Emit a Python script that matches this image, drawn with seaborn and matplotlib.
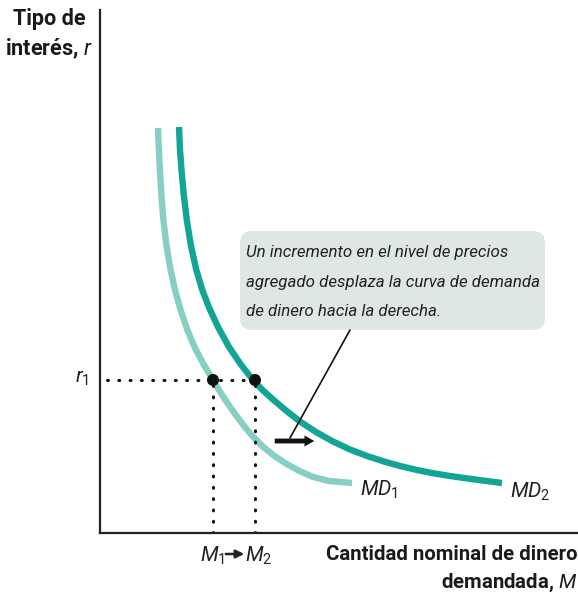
import matplotlib
matplotlib.use("Agg")
import matplotlib.pyplot as plt
from matplotlib.patches import FancyBboxPatch
import seaborn as sns
import pandas as pd

# Curve points (x = quantity of money, y = interest rate)
md1_x = [58, 58.9, 59.9, 61.4, 63.4, 66.4, 70.6, 75, 80.6, 87.4, 94.5, 103.4, 113, 120.2, 127.4,
         135.8, 144.8, 153.3, 163.3, 174.5, 185, 199.4, 213.2, 229.2, 252]
md1_y = [405, 383, 363, 338, 313, 288, 263, 243, 223, 203, 186, 169, 153, 141, 130,
         118, 106, 96, 86, 77, 70, 62, 56, 52, 50]
md2_x = [79, 80, 81.5, 83.8, 86.8, 90.8, 96.3, 102.3, 108.8, 118, 129, 140.5, 153, 163, 173,
         186, 200, 216, 233, 250, 267, 284, 300, 317, 333, 350, 367, 385, 402]
md2_y = [406, 383, 363, 338, 313, 288, 263, 243, 226, 206, 186, 169, 153, 142.5, 133.5,
         122.5, 111.5, 101, 91.5, 83.5, 77, 71.5, 67, 63, 59.8, 57, 54.6, 52.2, 50]
r1 = 153
m1, m2 = 113, 155

sns.set_style("white")
plt.rcParams["font.family"] = ["Roboto", "DejaVu Sans"]
plt.rcParams["mathtext.fontset"] = "custom"
plt.rcParams["mathtext.it"] = "Roboto:italic"
plt.rcParams["mathtext.rm"] = "Roboto"
plt.rcParams["mathtext.bf"] = "Roboto:bold"

fig = plt.figure(figsize=(5.78, 5.99), dpi=100)
ax = fig.add_axes([100 / 578, 66 / 599, 478 / 578, 523 / 599])
ax.set_xlim(0, 478)
ax.set_ylim(0, 523)

c1 = "#87cfc5"
c2 = "#12a596"
df1 = pd.DataFrame({"M": md1_x, "r": md1_y})
df2 = pd.DataFrame({"M": md2_x, "r": md2_y})
sns.lineplot(data=df1, x="M", y="r", ax=ax, color=c1, lw=4.6, sort=False,
             solid_capstyle="butt", solid_joinstyle="round", estimator=None)
sns.lineplot(data=df2, x="M", y="r", ax=ax, color=c2, lw=4.6, sort=False,
             solid_capstyle="butt", solid_joinstyle="round", estimator=None)

# dotted guides
dots = (0, (0.3, 3.4))
ax.plot([7, m2], [r1, r1], ls=dots, color="#111", lw=2.2, dash_capstyle="round")
ax.plot([m1, m1], [0, r1], ls=dots, color="#111", lw=2.2, dash_capstyle="round")
ax.plot([m2, m2], [0, r1], ls=dots, color="#111", lw=2.2, dash_capstyle="round")

pts = pd.DataFrame({"M": [m1, m2], "r": [r1, r1]})
sns.scatterplot(data=pts, x="M", y="r", ax=ax, color="#111", s=75, edgecolor="none", zorder=5)

for s in ["top", "right"]:
    ax.spines[s].set_visible(False)
for s in ["left", "bottom"]:
    ax.spines[s].set_color("#222")
    ax.spines[s].set_linewidth(1.6)
ax.set_xticks([])
ax.set_yticks([])
ax.set_xlabel("")
ax.set_ylabel("")

fig.canvas.draw()
renderer = fig.canvas.get_renderer()


def fit(t, width_px):
    w = t.get_window_extent(renderer).width
    t.set_fontsize(t.get_fontsize() * width_px / w)
    return t.get_fontsize()


# axis titles
t = fig.text(49 / 578, 1 - 19 / 599, "Tipo de", ha="center", va="center",
             fontsize=14, fontweight="bold", color="#1a1a1a")
fs_y = fit(t, 73)
fig.text(49 / 578, 1 - 49 / 599, "interés, $\\mathit{r}$", ha="center", va="center",
         fontsize=fs_y, fontweight="bold", color="#1a1a1a")
t = fig.text(577 / 578, 1 - 554 / 599, "Cantidad nominal de dinero", ha="right", va="center",
             fontsize=14, fontweight="bold", color="#1a1a1a")
fs_x = fit(t, 252)
fig.text(577 / 578, 1 - 583 / 599, "demandada, $\\mathit{M}$", ha="right", va="center",
         fontsize=fs_x, fontweight="bold", color="#1a1a1a")

ax.text(-11, r1 + 2, "$r_1$", ha="right", va="center", fontsize=15, color="#222")
ax.text(m1 - 1, -12, "$M_1$", ha="center", va="top", fontsize=15, color="#222")
ax.text(m2 + 4, -12, "$M_2$", ha="center", va="top", fontsize=15, color="#222")
ax.annotate("", xy=(m2 - 8, -21), xytext=(m1 + 10, -21),
            arrowprops=dict(arrowstyle="-|>", color="#222", lw=1.8, mutation_scale=12),
            annotation_clip=False)

ax.text(md1_x[-1] + 8, md1_y[-1] - 7, "$MD_1$", ha="left", va="center", fontsize=15, color="#222")
ax.text(md2_x[-1] + 8, md2_y[-1] - 9, "$MD_2$", ha="left", va="center", fontsize=15, color="#222")

# annotation box with pointer
box = FancyBboxPatch((140, 203), 305, 99, boxstyle="round,pad=0,rounding_size=12",
                     fc="#dfe7e6", ec="none", zorder=2)
ax.add_patch(box)
ax.plot([250, 190], [203, 95], color="#111", lw=1.2, zorder=3)
lines = ["Un incremento en el nivel de precios",
         "agregado desplaza la curva de demanda",
         "de dinero hacia la derecha."]
ys = [280, 250, 221]
t0 = ax.text(146, ys[1], lines[1], ha="left", va="center", fontsize=13, style="italic",
             color="#222", zorder=4)
fs = fit(t0, 294)
for ln, yy in zip([lines[0], lines[2]], [ys[0], ys[2]]):
    ax.text(146, yy, ln, ha="left", va="center", fontsize=fs, style="italic",
            color="#222", zorder=4)

ax.annotate("", xy=(217, 92), xytext=(172, 92),
            arrowprops=dict(arrowstyle="simple,head_length=0.7,head_width=0.8,tail_width=0.35",
                            color="#111", lw=0))

fig.savefig("out.png", dpi=100)
